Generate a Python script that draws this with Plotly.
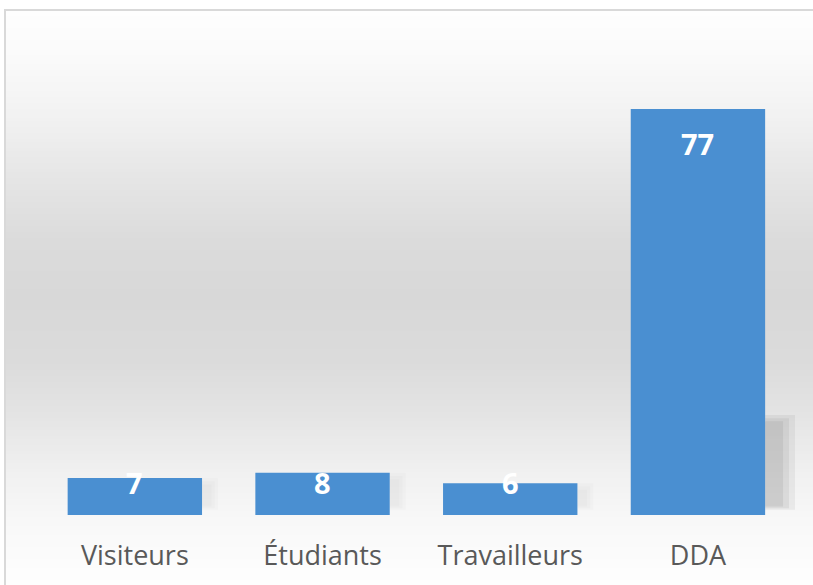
import plotly.graph_objects as go

categories = ["Visiteurs", "Étudiants", "Travailleurs", "DDA"]
values = [7, 8, 6, 77]

W, H = 813, 585
ML, MR, MT, MB = 41, 18, 30, 70
plot_h = H - MT - MB
YMAX = 92.0
px_per_unit = plot_h / YMAX

fig = go.Figure()
fig.add_trace(go.Bar(
    x=categories, y=values,
    marker=dict(color="#4a8fd1", line=dict(width=0)),
    hoverinfo="skip",
))

shapes = []
# background gradient (style)
stops = [(10, 254), (60, 250), (120, 241), (180, 229), (240, 219), (300, 216),
         (360, 219), (420, 229), (470, 240), (520, 248), (585, 254)]

def gray_at(py):
    for (y0, g0), (y1, g1) in zip(stops[:-1], stops[1:]):
        if y0 <= py <= y1:
            t = (py - y0) / (y1 - y0)
            return round(g0 + (g1 - g0) * t)
    return 254

def py_to_paper(py):
    return (H - MB - py) / plot_h

x_left = (5 - ML) / (W - ML - MR)
step = 3
for py in range(10, H, step):
    g = gray_at(py + step / 2)
    shapes.append(dict(type="rect", xref="paper", yref="paper",
                       x0=x_left, x1=1.2, y0=py_to_paper(py + step), y1=py_to_paper(py),
                       fillcolor=f"rgb({g},{g},{g})", line=dict(width=0), layer="below"))

# border
shapes.append(dict(type="rect", xref="paper", yref="paper",
                   x0=x_left, x1=1.2, y0=-0.3, y1=py_to_paper(10),
                   fillcolor="rgba(0,0,0,0)", line=dict(color="#d9d9d9", width=2), layer="above"))

# soft shadows to the right of bars (style)
half = (1 - 0.284) / 2
for i, v in enumerate(values):
    hpx = v * px_per_unit
    big = hpx > 80
    sh_h = min(hpx, 100) / px_per_unit
    ops = [0.10, 0.12, 0.14] if big else [0.03, 0.03, 0.03]
    wid = 30 if big else 16
    for k, op in enumerate(ops):
        shapes.append(dict(type="rect", xref="x", yref="y",
                           x0=i + half, x1=i + half + (wid - wid / 5 * k) / 188.5,
                           y0=1.0 + 0.3 * k, y1=sh_h - 0.6 * k,
                           fillcolor=f"rgba(120,120,120,{op})", line=dict(width=0), layer="below"))

annotations = []
for cat, v in zip(categories, values):
    if v * px_per_unit > 80:
        annotations.append(dict(x=cat, y=v, yref="y", xref="x", text=str(v), showarrow=False,
                                yanchor="middle", yshift=-34,
                                font=dict(family="Open Sans", size=29, color="white", weight="bold")))
    else:
        annotations.append(dict(x=cat, y=0, yref="y", xref="x", text=str(v), showarrow=False,
                                yanchor="middle", yshift=33,
                                font=dict(family="Open Sans", size=29, color="white", weight="bold")))

fig.update_layout(
    width=W, height=H, autosize=False,
    margin=dict(l=ML, r=MR, t=MT, b=MB),
    paper_bgcolor="white", plot_bgcolor="rgba(0,0,0,0)",
    bargap=0.284, showlegend=False,
    shapes=shapes, annotations=annotations,
    xaxis=dict(showgrid=False, showline=False, zeroline=False, ticks="",
               tickfont=dict(family="Open Sans", size=27, color="#595959"),
               ticklabelstandoff=22),
    yaxis=dict(range=[0, YMAX], visible=False, showgrid=False, zeroline=False),
)

fig.write_html("out.html")
